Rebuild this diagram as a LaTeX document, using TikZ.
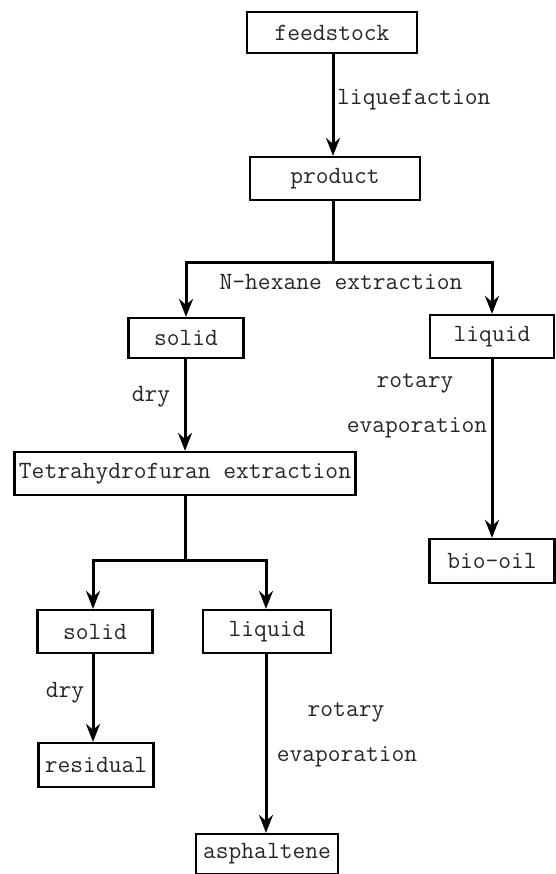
\documentclass[tikz,border=0pt]{standalone}
\usetikzlibrary{arrows.meta}
\begin{document}
\begin{tikzpicture}[x=1pt,y=-1pt,
  every node/.style={font=\ttfamily\fontsize{24.8}{28}\selectfont, text=black!85, inner sep=0pt},
  box/.style={draw=black, line width=2.2pt, rectangle},
  line/.style={line width=3pt, black},
  arr/.style={line width=3pt, black, -{Stealth[length=18pt,width=14pt,inset=6pt]}}
]
\useasboundingbox (0,0) rectangle (555,874);
% boxes
\node[box, minimum width=170pt, minimum height=41pt] (feed) at (332,32.5) {feedstock};
\node[box, minimum width=170pt, minimum height=43pt] (prod) at (335,178.5) {product};
\node[box, minimum width=115pt, minimum height=40pt] (solid1) at (186,338) {solid};
\node[box, minimum width=124pt, minimum height=43pt] (liq1) at (492,336.5) {liquid};
\node[box, minimum width=125pt, minimum height=44pt] (bio) at (492,561) {bio-oil};
\node[box, minimum width=341pt, minimum height=43pt] (thf) at (185,473.5) {Tetrahydrofuran extraction};
\node[box, minimum width=115pt, minimum height=43pt] (solid2) at (95,631.5) {solid};
\node[box, minimum width=128pt, minimum height=43pt] (liq2) at (267,631.5) {liquid};
\node[box, minimum width=115pt, minimum height=44pt] (resid) at (96,765) {residual};
\node[box, minimum width=142pt, minimum height=40pt] (asph) at (267,854) {asphaltene};
% junctions
\coordinate (j1) at (333,263);
\coordinate (j2) at (185,560);
% connectors
\draw[arr] ([xshift=1pt]feed.south) -- ([xshift=-2pt]prod.north);
\draw[line] ([xshift=-2pt]prod.south) -- (j1);
\draw[arr] (j1) -| (solid1.north);
\draw[arr] (j1) -| (liq1.north);
\draw[arr] (liq1.south) -- (bio.north);
\draw[arr] ([xshift=-1pt]solid1.south) -- (thf.north);
\draw[line] (thf.south) -- (j2);
\draw[arr] (j2) -| ([xshift=-2pt]solid2.north);
\draw[arr] (j2) -| ([xshift=-1pt]liq2.north);
\draw[arr] ([xshift=-2pt]solid2.south) -- ([xshift=-3pt]resid.north);
\draw[arr] ([xshift=-1pt]liq2.south) -- ([xshift=-1pt]asph.north);
% labels
\node[anchor=west] (l1) at (337,100) {liquefaction};
\node (l2) at (341,282) {N-hexane extraction};
\node (l3) at (415,383) {rotary};
\node (l4) at (417,428) {evaporation};
\node (l5) at (151,397) {dry};
\node (l6) at (65,693) {dry};
\node (l7) at (346,712) {rotary};
\node (l8) at (347,757) {evaporation};
\end{tikzpicture}
\end{document}
